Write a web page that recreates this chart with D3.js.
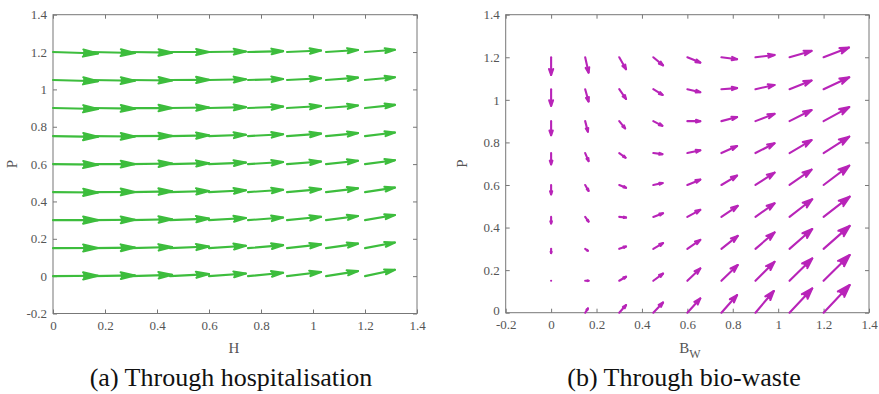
<!DOCTYPE html>
<html>
<head>
<meta charset="utf-8">
<script src="https://cdn.jsdelivr.net/npm/d3@7"></script>
<style>
  body { margin: 0; background: #fff; }
  svg { display: block; }
  .tick text { font-family: "Liberation Serif", "Times New Roman", serif; font-size: 13px; fill: #555; }
  .tick line { stroke: #777; }
  .domain { display: none; }
</style>
</head>
<body>
<svg id="chart" width="879" height="394"></svg>
<script>
// grid points of both quiver plots (rows listed top to bottom)
const gridX = [0, 0.15, 0.3, 0.45, 0.6, 0.75, 0.9, 1.05, 1.2];
const gridY = [1.2, 1.05, 0.9, 0.75, 0.6, 0.45, 0.3, 0.15, 0];

// (a) hospitalisation: H component per column, P component per cell
const leftU = [0.173, 0.165, 0.158, 0.150, 0.142, 0.135, 0.131, 0.123, 0.115];
const leftV = [
  [-0.008, -0.005, -0.003, 0.000, 0.003, 0.005, 0.008, 0.011, 0.012],
  [-0.006, -0.004, -0.002, 0.001, 0.004, 0.006, 0.010, 0.013, 0.015],
  [-0.005, -0.003, 0.000, 0.003, 0.005, 0.008, 0.011, 0.014, 0.017],
  [-0.004, -0.002, 0.001, 0.004, 0.007, 0.010, 0.013, 0.016, 0.019],
  [-0.003, 0.000, 0.003, 0.005, 0.008, 0.011, 0.014, 0.018, 0.021],
  [-0.002, 0.001, 0.004, 0.006, 0.010, 0.013, 0.016, 0.020, 0.024],
  [0.000, 0.002, 0.005, 0.008, 0.011, 0.014, 0.018, 0.022, 0.027],
  [0.001, 0.003, 0.006, 0.009, 0.013, 0.016, 0.020, 0.024, 0.030],
  [0.002, 0.004, 0.007, 0.011, 0.014, 0.018, 0.022, 0.027, 0.034]
];

// (b) bio-waste: Bw and P components per cell
const rightU = [
  [0, 0.015, 0.030, 0.043, 0.057, 0.069, 0.084, 0.097, 0.112],
  [0, 0.015, 0.030, 0.041, 0.057, 0.069, 0.084, 0.097, 0.113],
  [0, 0.012, 0.026, 0.040, 0.057, 0.069, 0.084, 0.097, 0.113],
  [0, 0.015, 0.028, 0.040, 0.057, 0.069, 0.084, 0.097, 0.113],
  [0, 0.015, 0.030, 0.041, 0.057, 0.069, 0.084, 0.097, 0.113],
  [0, 0.015, 0.030, 0.043, 0.057, 0.072, 0.084, 0.100, 0.115],
  [0, 0.012, 0.030, 0.043, 0.057, 0.072, 0.084, 0.100, 0.115],
  [0, 0.015, 0.030, 0.043, 0.057, 0.072, 0.084, 0.100, 0.115],
  [0, 0.012, 0.030, 0.043, 0.057, 0.069, 0.081, 0.100, 0.115]
];
const rightV = [
  [-0.083, -0.072, -0.056, -0.038, -0.025, -0.009, 0.011, 0.030, 0.046],
  [-0.078, -0.058, -0.046, -0.027, -0.014, 0.005, 0.020, 0.041, 0.056],
  [-0.066, -0.050, -0.034, -0.022, 0.000, 0.019, 0.034, 0.052, 0.066],
  [-0.053, -0.038, -0.022, -0.005, 0.013, 0.033, 0.046, 0.061, 0.077],
  [-0.044, -0.028, -0.013, 0.009, 0.025, 0.044, 0.058, 0.072, 0.091],
  [-0.031, -0.022, -0.003, 0.017, 0.033, 0.052, 0.064, 0.083, 0.095],
  [-0.020, -0.009, 0.011, 0.027, 0.042, 0.061, 0.077, 0.093, 0.108],
  [-0.009, 0.000, 0.019, 0.034, 0.058, 0.074, 0.089, 0.105, 0.121],
  [0, 0.020, 0.036, 0.048, 0.067, 0.083, 0.102, 0.114, 0.130]
];

// tick labels
const leftXTicks = [0, 0.2, 0.4, 0.6, 0.8, 1, 1.2, 1.4];
const leftYTicks = [-0.2, 0, 0.2, 0.4, 0.6, 0.8, 1, 1.2, 1.4];
const rightXTicks = [-0.2, 0, 0.2, 0.4, 0.6, 0.8, 1, 1.2, 1.4];
const rightYTicks = [0, 0.2, 0.4, 0.6, 0.8, 1, 1.2, 1.4];

const svg = d3.select("#chart");
const serif = '"Liberation Serif", "Times New Roman", serif';

function drawPanel(opt) {
  const x = d3.scaleLinear().domain(opt.xDomain).range(opt.xRange);
  const y = d3.scaleLinear().domain(opt.yDomain).range(opt.yRange);
  const g = svg.append("g");
  const fmt = d => String(+d.toFixed(1));
  const tk = 4;

  g.append("g").attr("transform", `translate(0,${opt.yRange[0]})`)
    .call(d3.axisBottom(x).tickValues(opt.xTicks).tickFormat(fmt).tickSizeInner(-tk).tickSizeOuter(0).tickPadding(7));
  g.append("g").attr("transform", `translate(0,${opt.yRange[1]})`)
    .call(d3.axisTop(x).tickValues(opt.xTicks).tickFormat("").tickSizeInner(-tk).tickSizeOuter(0));
  const yAxis = g.append("g").attr("transform", `translate(${opt.xRange[0]},0)`)
    .call(d3.axisLeft(y).tickValues(opt.yTicks).tickFormat(fmt).tickSizeInner(-tk).tickSizeOuter(0).tickPadding(6));
  g.append("g").attr("transform", `translate(${opt.xRange[1]},0)`)
    .call(d3.axisRight(y).tickValues(opt.yTicks).tickFormat("").tickSizeInner(-tk).tickSizeOuter(0));

  // the "0" at the corner sits a little higher so it clears the x labels
  if (opt.yDomain[0] === 0) {
    yAxis.selectAll(".tick text").filter(d => d === 0).attr("dy", "0.1em");
  }

  g.append("rect")
    .attr("x", opt.xRange[0]).attr("y", opt.yRange[1])
    .attr("width", opt.xRange[1] - opt.xRange[0])
    .attr("height", opt.yRange[0] - opt.yRange[1])
    .attr("fill", "none").attr("stroke", "#777").attr("stroke-width", 1);

  // quiver arrows, head built in data units like matlab (alpha = beta = 0.33)
  const alpha = 0.33, beta = 0.33;
  const ag = g.append("g")
    .attr("stroke", opt.color).attr("fill", "none")
    .attr("stroke-width", 2.1).attr("stroke-linecap", "round").attr("stroke-linejoin", "round");
  gridY.forEach((gy, r) => {
    gridX.forEach((gx, c) => {
      const u = opt.u(r, c), v = opt.v(r, c);
      const L = Math.hypot(x(gx + u) - x(gx), y(gy + v) - y(gy));
      if (L < 0.5) return;
      if (L < 3) {
        ag.append("circle").attr("cx", x(gx)).attr("cy", y(gy)).attr("r", 1.1).attr("fill", opt.color).attr("stroke", "none");
        return;
      }
      const tx = gx + u, ty = gy + v;
      ag.append("line")
        .attr("x1", x(gx)).attr("y1", y(gy)).attr("x2", x(tx)).attr("y2", y(ty));
      const w1 = [tx - alpha * (u + beta * v), ty - alpha * (v - beta * u)];
      const w2 = [tx - alpha * (u - beta * v), ty - alpha * (v + beta * u)];
      ag.append("path")
        .attr("fill", opt.color)
        .attr("d", `M${x(w1[0])},${y(w1[1])}L${x(tx)},${y(ty)}L${x(w2[0])},${y(w2[1])}`);
    });
  });

  // axis labels
  const midY = (opt.yRange[0] + opt.yRange[1]) / 2;
  const xl = g.append("text")
    .attr("x", opt.xLabelX).attr("y", 353)
    .attr("text-anchor", "middle")
    .attr("font-family", serif).attr("font-size", 15).attr("fill", "#555");
  xl.append("tspan").text(opt.xLabel);
  if (opt.xSub) xl.append("tspan").attr("dy", 5).attr("font-size", 12).text(opt.xSub);

  g.append("text")
    .attr("transform", `translate(${opt.yLabelX},${midY}) rotate(-90)`)
    .attr("text-anchor", "middle")
    .attr("font-family", serif).attr("font-size", 15).attr("fill", "#555")
    .text("P");

  g.append("text")
    .attr("x", opt.captionX).attr("y", 386)
    .attr("text-anchor", "middle")
    .attr("font-family", serif).attr("font-size", 26).attr("fill", "#111")
    .text(opt.caption);
}

drawPanel({
  xDomain: [0, 1.4], yDomain: [-0.2, 1.4],
  xRange: [53, 417], yRange: [313.5, 14.7],
  xTicks: leftXTicks, yTicks: leftYTicks,
  u: (r, c) => leftU[c], v: (r, c) => leftV[r][c],
  color: "#3dbd3d",
  xLabel: "H", xLabelX: 234, yLabelX: 17,
  caption: "(a) Through hospitalisation", captionX: 231
});

drawPanel({
  xDomain: [-0.2, 1.4], yDomain: [0, 1.4],
  xRange: [505.7, 869], yRange: [312.7, 14.7],
  xTicks: rightXTicks, yTicks: rightYTicks,
  u: (r, c) => rightU[r][c], v: (r, c) => rightV[r][c],
  color: "#b824b8",
  xLabel: "B", xSub: "W", xLabelX: 690, yLabelX: 467,
  caption: "(b) Through bio-waste", captionX: 684
});
</script>
</body>
</html>
